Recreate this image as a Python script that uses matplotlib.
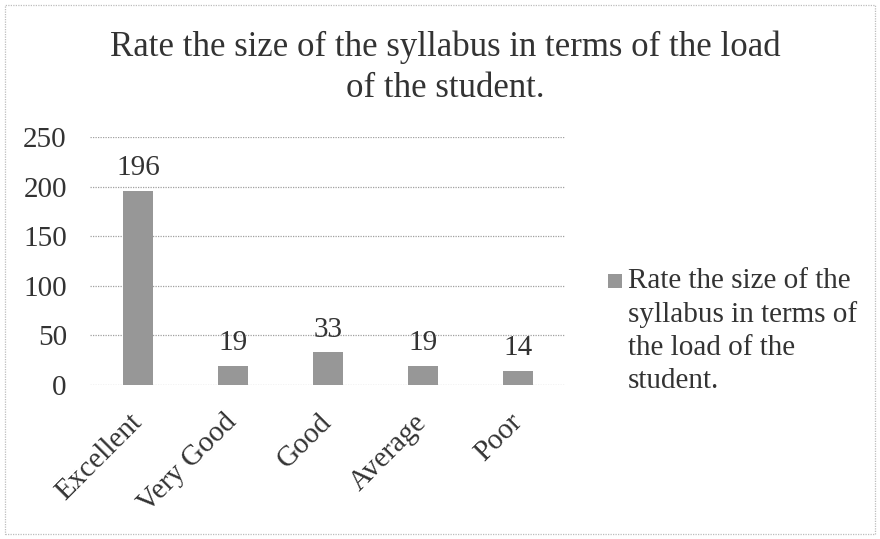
import matplotlib
matplotlib.use("Agg")
import matplotlib.pyplot as plt
from matplotlib.patches import Rectangle
from matplotlib.legend_handler import HandlerPatch

categories = ["Excellent", "Very Good", "Good", "Average", "Poor"]
values = [196, 19, 33, 19, 14]
yticks = [0, 50, 100, 150, 200, 250]
title = "Rate the size of the syllabus in terms of the load\nof the student."
series_label = "Rate the size of the\nsyllabus in terms of\nthe load of the\nstudent."

plt.rcParams['font.family'] = ['Liberation Serif', 'DejaVu Serif']

BAR = '#979797'
TXT = '#333333'
GRID = '#a0a0a0'
FS = 21

fig = plt.figure(figsize=(8.8, 5.39), dpi=100)
ax = fig.add_axes([0.1028, 0.2857, 0.5398, 0.4601])

x = list(range(len(categories)))
bars = ax.bar(x, values, width=0.32, color=BAR, label=series_label, zorder=3)

ax.set_xlim(-0.5, len(categories) - 0.5)
ax.set_ylim(0, 250)
ax.set_yticks(yticks)
ax.set_yticklabels([str(v) for v in yticks], fontsize=FS, color=TXT)
ax.yaxis.grid(True, color=GRID, linestyle=(0, (1, 1)), linewidth=0.9, zorder=0)
ax.set_xticks(x)
ax.set_xticklabels(categories, fontsize=FS, color=TXT, rotation=45,
                   ha='right', va='center', rotation_mode='anchor')
ax.tick_params(axis='both', length=0)
ax.tick_params(axis='x', pad=24)
ax.tick_params(axis='y', pad=17)
for s in ax.spines.values():
    s.set_visible(False)

for b, v in zip(bars, values):
    ax.annotate(str(v), (b.get_x() + b.get_width() / 2, v), xytext=(0, 7),
                textcoords='offset points', ha='center', va='bottom',
                fontsize=FS, color=TXT)

fig.text(0.506, 1 - 97 / 539, title, fontsize=25, color=TXT, ha='center',
         va='baseline', linespacing=1.32, multialignment='center')

LEG_LS = 1.33


def make_square(legend, orig_handle, xdescent, ydescent, width, height, fontsize):
    side = 0.48 * fontsize
    off = 1.5 * LEG_LS * 0.847 * fontsize
    return Rectangle((-xdescent + width - side, -ydescent + off + (height - side) / 2),
                     side, side)


leg = ax.legend(handles=[bars[0]], labels=[series_label], loc='upper left',
                bbox_to_anchor=(0.691, 0.502), bbox_transform=fig.transFigure,
                frameon=False, fontsize=FS, handlelength=0.48,
                handletextpad=0.2, borderaxespad=0, borderpad=0,
                handler_map={Rectangle: HandlerPatch(patch_func=make_square)})
for t in leg.get_texts():
    t.set_color(TXT)
    t.set_linespacing(LEG_LS)

border = Rectangle((0.006, 0.01), 0.988, 0.98, transform=fig.transFigure,
                   fill=False, edgecolor='#bdbdbd', linewidth=0.9,
                   linestyle=(0, (1, 1)))
fig.patches.append(border)

fig.savefig("out.png", dpi=100)
